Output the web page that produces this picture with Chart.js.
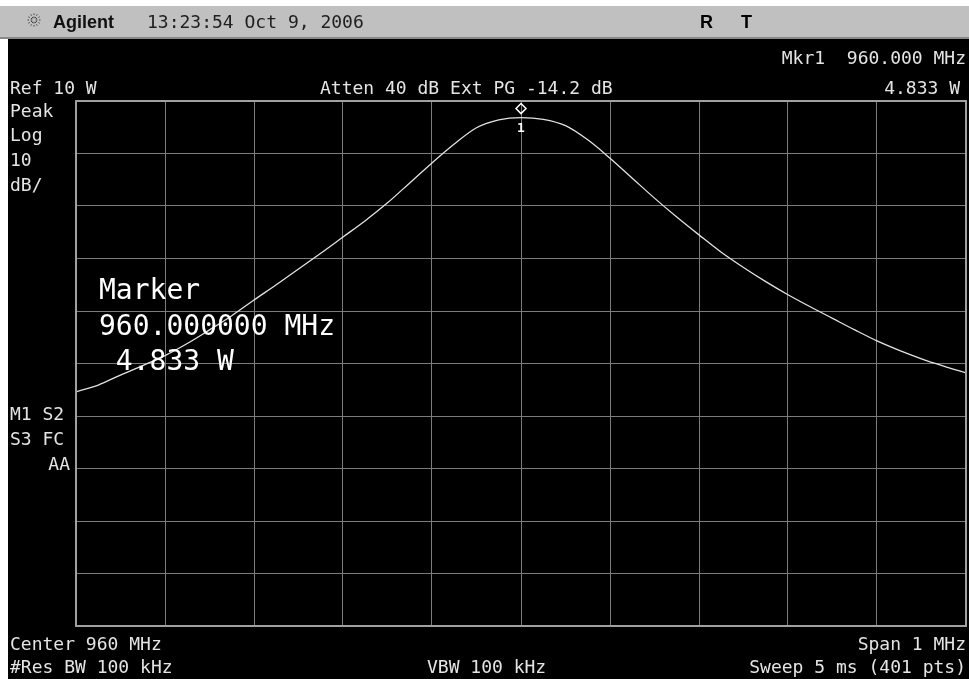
<!DOCTYPE html>
<html>
<head>
<meta charset="utf-8">
<script src="https://cdn.jsdelivr.net/npm/chart.js@4.4.0/dist/chart.umd.min.js"></script>
<style>
  html, body { margin: 0; padding: 0; background: #ffffff; }
  #wrap { width: 969px; height: 679px; position: relative; }
</style>
</head>
<body>
<div id="wrap"><canvas id="sa" width="969" height="679"></canvas></div>
<script>
const freqMHz = [
    959.500, 959.525, 959.550, 959.575, 959.600, 959.625, 959.650, 959.675,
    959.700, 959.725, 959.750, 959.775, 959.800, 959.825, 959.850, 959.875,
    959.900, 959.925, 959.950, 959.975, 960.000, 960.025, 960.050, 960.075,
    960.100, 960.125, 960.150, 960.175, 960.200, 960.225, 960.250, 960.275,
    960.300, 960.325, 960.350, 960.375, 960.400, 960.425, 960.450, 960.475,
    960.500
];
const levelDbm = [
    -15.4, -14.1, -12.2, -10.4, -8.5, -6.2, -3.6, -0.9,
    2.1, 5.0, 8.0, 11.0, 14.1, 17.2, 20.6, 24.4,
    28.2, 31.8, 34.9, 36.4, 36.84, 36.5, 35.3, 32.6,
    29.1, 25.3, 21.5, 17.9, 14.5, 11.2, 8.3, 5.6,
    3.1, 0.8, -1.4, -3.6, -5.7, -7.5, -9.1, -10.5,
    -11.8
];
const gridFreqs = [959.5, 959.6, 959.7, 959.8, 959.9, 960.0, 960.1, 960.2, 960.3, 960.4, 960.5];
const gridLevels = [-60, -50, -40, -30, -20, -10, 0, 10, 20, 30, 40];
const markerFreq = 960.0;
const markerLevel = 36.84;

const mono = '"DejaVu Sans Mono", "Liberation Mono", monospace';

function txt(ctx, s, x, y, font, color, align) {
    ctx.font = font;
    ctx.fillStyle = color;
    ctx.textAlign = align || 'left';
    ctx.textBaseline = 'alphabetic';
    ctx.fillText(s, x, y);
}

const screenPlugin = {
    id: 'screen',
    beforeDraw(chart) {
        const ctx = chart.ctx;
        ctx.save();
        ctx.fillStyle = '#ffffff';
        ctx.fillRect(0, 0, chart.width, chart.height);
        ctx.fillStyle = '#c0c0c0';
        ctx.fillRect(0, 6, chart.width, 32);
        ctx.fillStyle = '#8a8a8a';
        ctx.fillRect(0, 37, chart.width, 2);
        ctx.fillStyle = '#000000';
        ctx.fillRect(8, 39, chart.width - 8, chart.height - 39);
        ctx.restore();
    },
    afterDraw(chart) {
        const ctx = chart.ctx;
        const a = chart.chartArea;
        const xs = chart.scales.x, ys = chart.scales.y;
        ctx.save();

        ctx.strokeStyle = '#a0a0a0';
        ctx.lineWidth = 2;
        ctx.strokeRect(a.left, a.top, a.right - a.left, a.bottom - a.top);

        // top bar
        ctx.strokeStyle = '#404040';
        ctx.lineWidth = 1;
        const cx = 34, cy = 20;
        ctx.setLineDash([1.5, 1.5]);
        for (let k = 0; k < 12; k++) {
            const t = k * Math.PI / 6;
            ctx.beginPath();
            ctx.moveTo(cx + Math.cos(t) * 2, cy + Math.sin(t) * 2);
            ctx.lineTo(cx + Math.cos(t) * 8, cy + Math.sin(t) * 8);
            ctx.stroke();
        }
        ctx.setLineDash([]);
        txt(ctx, 'Agilent', 53, 28, 'bold 18px "Liberation Sans", Arial, sans-serif', '#101010');
        txt(ctx, '13:23:54 Oct 9, 2006', 147, 28, '18px ' + mono, '#202020');
        txt(ctx, 'R', 700, 28, 'bold 18px "Liberation Sans", Arial, sans-serif', '#000000');
        txt(ctx, 'T', 741, 28, 'bold 18px "Liberation Sans", Arial, sans-serif', '#000000');

        const small = '18px ' + mono;
        const fg = '#e4e4e4';
        txt(ctx, 'Mkr1  960.000 MHz', 966, 64, small, fg, 'right');
        txt(ctx, 'Ref 10 W', 10, 94, small, fg);
        txt(ctx, 'Atten 40 dB Ext PG -14.2 dB', 320, 94, small, fg);
        txt(ctx, '4.833 W', 960, 94, small, fg, 'right');

        txt(ctx, 'Peak', 10, 117, small, fg);
        txt(ctx, 'Log', 10, 141, small, fg);
        txt(ctx, '10', 10, 166, small, fg);
        txt(ctx, 'dB/', 10, 191, small, fg);
        txt(ctx, 'M1 S2', 10, 420, small, fg);
        txt(ctx, 'S3 FC', 10, 445, small, fg);
        txt(ctx, 'AA', 70, 470, small, fg, 'right');

        txt(ctx, 'Center 960 MHz', 10, 650, small, fg);
        txt(ctx, '#Res BW 100 kHz', 10, 673, small, fg);
        txt(ctx, 'VBW 100 kHz', 427, 673, small, fg);
        txt(ctx, 'Span 1 MHz', 966, 650, small, fg, 'right');
        txt(ctx, 'Sweep 5 ms (401 pts)', 966, 673, small, fg, 'right');

        const big = '28px ' + mono;
        txt(ctx, 'Marker', 99, 299, big, '#ffffff');
        txt(ctx, '960.000000 MHz', 99, 335, big, '#ffffff');
        txt(ctx, ' 4.833 W', 99, 370, big, '#ffffff');

        // marker 1 diamond above the trace peak
        const mx = xs.getPixelForValue(markerFreq);
        const my = ys.getPixelForValue(markerLevel);
        ctx.strokeStyle = '#ffffff';
        ctx.lineWidth = 1.5;
        ctx.beginPath();
        ctx.moveTo(mx, my - 14);
        ctx.lineTo(mx + 5, my - 9);
        ctx.lineTo(mx, my - 4);
        ctx.lineTo(mx - 5, my - 9);
        ctx.closePath();
        ctx.stroke();
        txt(ctx, '1', mx, my + 14, 'bold 13px ' + mono, '#ffffff', 'center');

        ctx.restore();
    }
};

const ctx = document.getElementById('sa').getContext('2d');
new Chart(ctx, {
    type: 'line',
    data: {
        datasets: [{
            data: freqMHz.map((f, i) => ({ x: f, y: levelDbm[i] })),
            borderColor: '#e2e2e2',
            borderWidth: 1.3,
            pointRadius: 0,
            cubicInterpolationMode: 'monotone',
            fill: false
        }]
    },
    options: {
        responsive: false,
        animation: false,
        events: [],
        layout: { padding: { left: 76, top: 101, right: 3, bottom: 53 } },
        plugins: { legend: { display: false }, tooltip: { enabled: false } },
        scales: {
            x: {
                type: 'linear',
                min: 959.5,
                max: 960.5,
                afterBuildTicks: (s) => { s.ticks = gridFreqs.map(v => ({ value: v })); },
                ticks: { display: false },
                grid: { color: '#7c7c7c', lineWidth: 1, drawTicks: false },
                border: { display: false }
            },
            y: {
                min: -60,
                max: 40,
                afterBuildTicks: (s) => { s.ticks = gridLevels.map(v => ({ value: v })); },
                ticks: { display: false },
                grid: { color: '#7c7c7c', lineWidth: 1, drawTicks: false },
                border: { display: false }
            }
        }
    },
    plugins: [screenPlugin]
});
</script>
</body>
</html>
